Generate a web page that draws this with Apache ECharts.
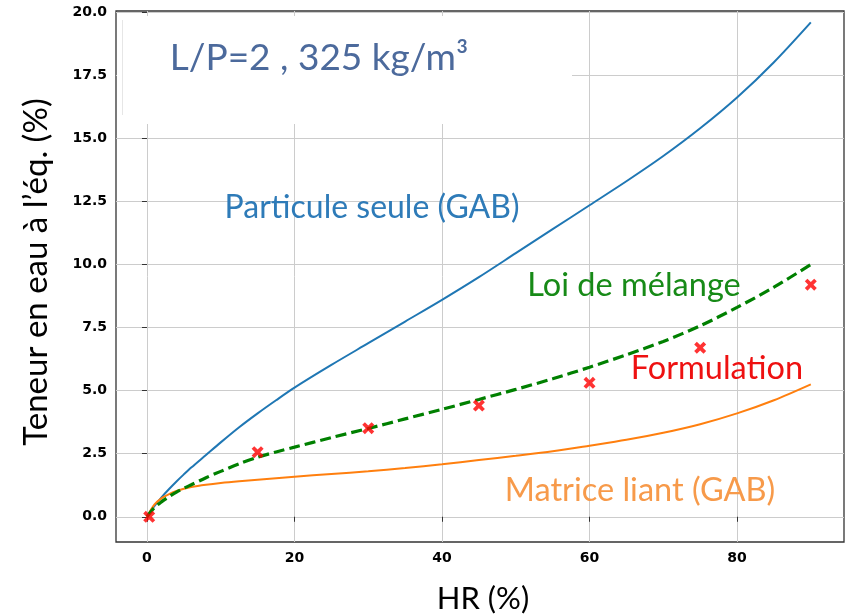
<!DOCTYPE html>
<html>
<head>
<meta charset="utf-8">
<script src="https://cdn.jsdelivr.net/npm/echarts@6/dist/echarts.min.js"></script>
<style>
html,body{margin:0;padding:0;background:#fff;}
#chart{width:848px;height:614px;}
</style>
</head>
<body>
<div id="chart"></div>
<script>
// HR (%) sample positions of the model curves
const hr = [0,1,2,3,4,5,6,8,10,12.5,15,17.5,20,25,30,35,40,45,50,55,60,65,70,75,80,85,90];
// Particule seule (GAB)
const particule = [0,0.42,0.78,1.1,1.4,1.68,1.95,2.45,2.95,3.55,4.1,4.62,5.12,6.02,6.88,7.74,8.6,9.5,10.45,11.4,12.35,13.3,14.3,15.4,16.62,18.02,19.6];
// Matrice liant (GAB)
const matrice = [0,0.48,0.74,0.9,1.02,1.11,1.18,1.27,1.34,1.41,1.47,1.53,1.59,1.7,1.8,1.93,2.08,2.25,2.42,2.6,2.82,3.05,3.33,3.67,4.1,4.62,5.25];
// Loi de mélange
const melange = [0,0.36,0.6,0.8,0.98,1.13,1.27,1.55,1.8,2.1,2.36,2.57,2.76,3.14,3.5,3.88,4.26,4.65,5.05,5.47,5.93,6.42,6.95,7.57,8.3,9.1,10.0];
// Formulation (measured points)
const hrFormulation = [0.3,15,30,45,60,75,90];
const formulation = [0.0,2.56,3.51,4.41,5.31,6.70,9.20];
// tick labels
const xTicks = [0,20,40,60,80];
const yTicks = [0,2.5,5,7.5,10,12.5,15,17.5,20];

const chart = echarts.init(document.getElementById('chart'), null, {renderer:'canvas'});
const pair = (xs, ys) => xs.map((x,i)=>[x, ys[i]]);
const xShape = 'path://M0,2.2 L2.2,0 L5,2.8 L7.8,0 L10,2.2 L7.2,5 L10,7.8 L7.8,10 L5,7.2 L2.2,10 L0,7.8 L2.8,5 Z';
const tickFont = {fontFamily:'DejaVu Sans', fontWeight:'bold', fontSize:14, color:'#000'};
const calib = 'Lato';

chart.setOption({
  animation:false,
  backgroundColor:'#fff',
  grid:{left:116, right:4, top:11, bottom:72, show:true, borderColor:'#333', borderWidth:1.3, backgroundColor:'transparent'},
  xAxis:{
    type:'value', min:-4.2, max:94.5,
    axisLine:{show:false},
    axisTick:{show:true, length:5, customValues:xTicks, lineStyle:{color:'#333'}},
    axisLabel:Object.assign({customValues:xTicks, margin:9}, tickFont),
    splitLine:{show:true, lineStyle:{color:'#cccccc', width:1}}
  },
  yAxis:{
    type:'value', min:-1, max:20.05,
    axisLine:{show:false},
    axisTick:{show:true, length:5, customValues:yTicks, lineStyle:{color:'#333'}},
    axisLabel:Object.assign({customValues:yTicks, margin:9, formatter:v=>v.toFixed(1)}, tickFont),
    splitLine:{show:true, lineStyle:{color:'#cccccc', width:1}}
  },
  series:[
    {type:'line', name:'Particule seule (GAB)', data:pair(hr, particule), smooth:0.3, showSymbol:false,
     lineStyle:{color:'#1f77b4', width:2}, z:3},
    {type:'line', name:'Matrice liant (GAB)', data:pair(hr, matrice), smooth:0.3, showSymbol:false,
     lineStyle:{color:'#ff7f0e', width:2}, z:3},
    {type:'line', name:'Loi de mélange', data:pair(hr, melange), smooth:0.3, showSymbol:false,
     lineStyle:{color:'#008000', width:3.2, type:[11,5]}, z:4},
    {type:'scatter', name:'Formulation', data:pair(hrFormulation, formulation), symbol:xShape, symbolSize:12,
     itemStyle:{color:'#ff0000'}, z:6}
  ],
  graphic:[
    {type:'rect', z:20, shape:{x:117, y:16, width:455, height:108}, style:{fill:'#fff'}},
    {type:'line', z:21, shape:{x1:122.5, y1:20, x2:122.5, y2:115}, style:{stroke:'#e6e6e6', lineWidth:1}},
    {type:'text', z:22, x:319, y:58, style:{text:'L/P=2 , 325 kg/m³', font:'37px '+calib, fill:'#4c6a9c', textAlign:'center', textVerticalAlign:'middle'}},
    {type:'text', z:22, x:372, y:208, style:{text:'Particule seule (GAB)', font:'32px '+calib, fill:'#2e7bb8', textAlign:'center', textVerticalAlign:'middle'}},
    {type:'text', z:22, x:634, y:286, style:{text:'Loi de mélange', font:'32.5px '+calib, fill:'#178a17', textAlign:'center', textVerticalAlign:'middle'}},
    {type:'text', z:22, x:717, y:369, style:{text:'Formulation', font:'32.5px '+calib, fill:'#ee1111', textAlign:'center', textVerticalAlign:'middle'}},
    {type:'text', z:22, x:640, y:491, style:{text:'Matrice liant (GAB)', font:'32.5px '+calib, fill:'#f79a4a', textAlign:'center', textVerticalAlign:'middle'}},
    {type:'text', z:22, x:36, y:272, rotation:Math.PI/2, style:{text:'Teneur en eau à l\u2019éq. (%)', font:'33px '+calib, fill:'#000', textAlign:'center', textVerticalAlign:'middle'}},
    {type:'text', z:22, x:483, y:599, style:{text:'HR (%)', font:'31px '+calib, fill:'#000', textAlign:'center', textVerticalAlign:'middle'}}
  ]
});
</script>
</body>
</html>
